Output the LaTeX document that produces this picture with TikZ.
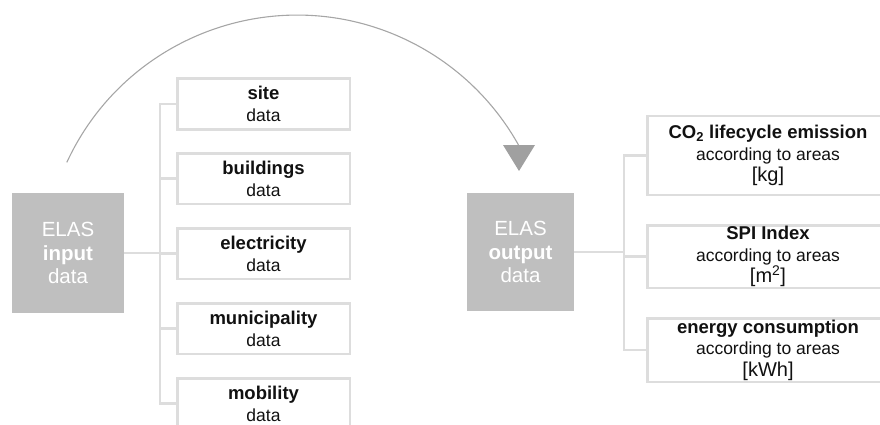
\documentclass[tikz,border=0pt]{standalone}
\usepackage{fontspec}
\setmainfont{Liberation Sans}
\definecolor{boxgray}{HTML}{BFBFBF}
\definecolor{linegray}{HTML}{DDDDDD}
\definecolor{arcgray}{HTML}{A6A6A6}
\definecolor{tipgray}{HTML}{A0A0A0}
\definecolor{txt}{HTML}{111111}
\begin{document}
\begin{tikzpicture}[x=1pt,y=-1pt,
  bigbox/.style={fill=boxgray, draw=none, text=white, align=center, inner sep=0pt,
    font=\fontsize{20.5}{25}\selectfont},
  inbox/.style={draw=linegray, line width=2.5pt, fill=white, text=txt, align=center,
    minimum width=172.5pt, minimum height=50.5pt, inner sep=0pt,
    font=\fontsize{17.5}{22}\selectfont},
  outbox/.style={draw=linegray, line width=2.5pt, fill=white, text=txt, align=center,
    minimum width=241.5pt, inner sep=0pt,
    font=\fontsize{17.5}{21.5}\selectfont},
  conn/.style={draw=linegray, line width=2.5pt},
  arcline/.style={draw=arcgray, line width=1.1pt}
]
\newcommand{\ttl}[1]{{\bfseries\fontsize{18.5}{22}\selectfont #1}}
\newcommand{\unt}[1]{{\fontsize{20}{21.5}\selectfont #1}}
\useasboundingbox (0,0) rectangle (880,425);
\clip (0,0) rectangle (880,425);

% big boxes
\node[bigbox, minimum width=112pt, minimum height=120pt] (in) at (68,253)
  {ELAS\\[-1pt]\textbf{input}\\[-2pt]data};
\node[bigbox, minimum width=107pt, minimum height=118pt] (out) at (520.5,252)
  {ELAS\\[-1pt]\textbf{output}\\[-2pt]data};

% input boxes
\node[inbox] (site) at (263.5,104) {\ttl{site}\\data};
\node[inbox] (bld) at (263.5,178.5) {\ttl{buildings}\\data};
\node[inbox] (ele) at (263.5,253.5) {\ttl{electricity}\\data};
\node[inbox] (mun) at (263.5,328.5) {\ttl{municipality}\\data};
\node[inbox] (mob) at (263.5,403.5) {\ttl{mobility}\\data};

% output boxes
\node[outbox, minimum height=78.5pt] (co2) at (768,155.5)
  {\ttl{CO\textsubscript{2} lifecycle emission}\\according to areas\\\unt{[kg]}};
\node[outbox, minimum height=62.5pt] (spi) at (768,256.5)
  {\ttl{SPI Index}\\according to areas\\\unt{[m\textsuperscript{2}]}};
\node[outbox, minimum height=63.5pt] (eng) at (768,350)
  {\ttl{energy consumption}\\according to areas\\\unt{[kWh]}};

% connectors input side
\coordinate (tin) at (160,0);
\path[conn] (in.east) -- (in.east -| tin);
\path[conn] (site.west) -- (site.west -| tin) -- (mob.west -| tin) -- (mob.west);
\path[conn] (bld.west) -- (bld.west -| tin);
\path[conn] (ele.west) -- (ele.west -| tin);
\path[conn] (mun.west) -- (mun.west -| tin);

% connectors output side
\coordinate (tout) at (624,0);
\path[conn] (out.east) -- (out.east -| tout);
\path[conn] (co2.west) -- (co2.west -| tout) -- (eng.west -| tout) -- (eng.west);
\path[conn] (spi.west) -- (spi.west -| tout);

% curved arrow
\coordinate (arcstart) at (66.8,162.4);
\path[arcline] (arcstart) arc[start angle=-155.2, end angle=-28.6, radius=253.7];
\coordinate (tip) at (519,171);
\fill[tipgray] (503,145) -- (535,145) -- (tip) -- cycle;
\end{tikzpicture}
\end{document}
